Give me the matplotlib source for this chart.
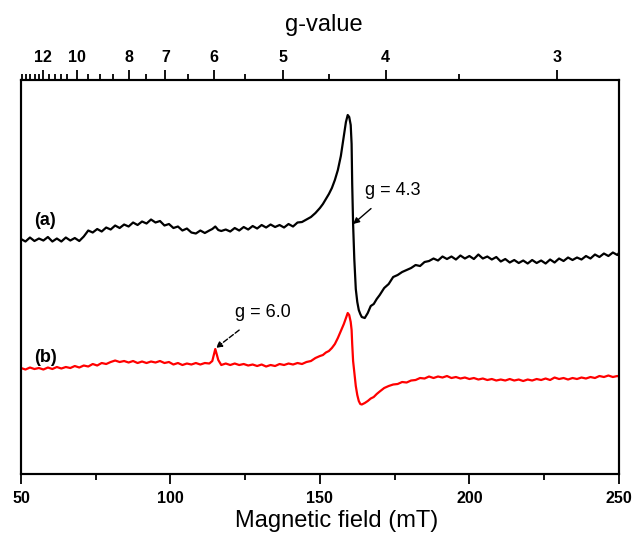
import matplotlib
matplotlib.use("Agg")
import matplotlib.pyplot as plt
import numpy as np

# g = C / B  (C = h*nu/muB in mT, X-band ~9.63 GHz)
G_CONST = 688.0

# magnetic field (mT), shared by both spectra
field = (
    [50, 51.5, 53, 54.5, 56, 57.5, 59, 60.5, 62, 63.5, 65, 66.5, 68, 69.5, 71,
     72.5, 74, 75.5, 77, 78.5, 80, 81.5, 83, 84.5, 86, 87.5, 89, 90.5, 92, 93.5,
     95, 96.5, 98, 99.5, 101, 102.5, 104, 105.5, 107, 108.5, 110, 111.5, 113]
    + [114, 115, 116, 117]
    + [118.5, 120, 121.5, 123, 124.5, 126, 127.5, 129, 130.5, 132, 133.5, 135,
       136.5, 138, 139.5, 141, 142.5, 144, 145.5, 147, 148.5, 150]
    + [151, 152, 153, 154, 155, 156, 157, 158]
    + [158.7, 159.3, 159.8, 160.3, 160.6, 160.8, 161.1, 161.5]
    + [162, 162.5, 163, 163.5, 164]
    + [165, 166, 167, 168, 169, 170]
    + [171.5, 173, 174.5, 176, 177.5, 179, 180.5, 182, 183.5, 185, 186.5, 188,
       189.5, 191, 192.5, 194, 195.5, 197, 198.5, 200, 201.5, 203, 204.5, 206,
       207.5, 209, 210.5, 212, 213.5, 215, 216.5, 218, 219.5, 221, 222.5, 224,
       225.5, 227, 228.5, 230, 231.5, 233, 234.5, 236, 237.5, 239, 240.5, 242,
       243.5, 245, 246.5, 248, 249.5, 250]
)

# spectrum (a), arbitrary units
spec_a = (
    [235, 232.5, 236.5, 233, 235.5, 233.5, 237, 232.5, 235.5, 232.5, 236.5, 233.5, 236,
     233, 237.5, 243.5, 241.5, 245, 242.5, 246.5, 244.5, 248.5, 246, 249.5, 247.5, 251.5,
     249, 252.5, 250.5, 254.5, 251.5, 253, 248.5, 250, 246, 247.5, 243.5, 245.5, 241.5,
     240.5, 243.5, 241, 243.5]
    + [245, 247.5, 244, 243]
    + [244.5, 242.5, 246, 243.5, 247, 244.5, 248, 245.5, 249, 246.5, 249.5, 247,
       249, 246.5, 250, 247.5, 251.5, 252, 254.5, 257, 261, 266]
    + [270, 275, 280, 286, 294, 304, 318, 338]
    + [352, 359, 357, 349, 330, 290, 250, 215]
    + [185, 172, 164, 160, 157]
    + [156, 161, 168, 170, 175, 179]
    + [186, 190, 197, 199, 202, 204, 206, 209, 208, 212, 213, 215.5, 213.5, 217.5,
       215, 217.5, 214.5, 218.5, 215.5, 218, 215, 219.5, 215.5, 217.5, 214.5, 217, 212.5,
       215, 211.5, 214, 211, 213.5, 210.5, 214, 211, 213.5, 210.5, 214.5, 211.5,
       215.5, 213, 216.5, 214, 216.5, 214.5, 218, 215.5, 219.5, 217, 220.5, 218,
       221.5, 219, 221]
)

# spectrum (b), arbitrary units
spec_b = (
    [106, 104.5, 106.5, 105, 106, 104.5, 106.5, 105, 107, 105.5, 107, 106, 108,
     106.5, 108.5, 107.5, 110, 108.5, 111, 110, 112, 113.5, 112, 113, 111.5,
     113, 111, 112.5, 111, 112.5, 111.5, 113, 111, 112, 109.5, 111, 109, 110.5,
     109.5, 111, 109.5, 111, 110.5]
    + [113, 125, 114, 109]
    + [110.5, 109, 110.5, 109, 110, 108.5, 109.5, 108, 109.5, 107.5, 109, 108,
       110, 109, 110.5, 109.5, 111, 110, 112, 113, 116, 118]
    + [119, 121.5, 123, 126, 130, 136, 143, 150]
    + [156, 161, 159, 152, 144, 130, 113, 102]
    + [88, 79, 73, 70, 69.5]
    + [71, 73, 75.5, 77, 80, 82.5]
    + [86, 88, 89.5, 90, 92, 91.5, 93.5, 94, 96, 95.5, 97.5, 96, 97.5, 96.5,
       98, 96, 97, 95.5, 96.5, 95, 96, 94.5, 95.5, 94, 95, 93.5, 94.5, 93.5, 95,
       93.5, 94.5, 93, 94.5, 93.5, 95, 94, 95.5, 94, 96.5, 95, 96, 94.5, 96, 95,
       96.5, 95.5, 97, 96, 98, 97, 98.5, 97, 98, 97.5]
)

g_major = [12, 10, 8, 7, 6, 5, 4, 3]
g_minor = [13.65, 13.3, 12.95, 12.6, 12.3, 11.6, 11.2, 10.85, 10.5, 9.5, 9,
           8.5, 7.5, 6.5, 5.5, 4.5, 3.5]

tick_font = ["Liberation Sans", "DejaVu Sans"]
text_font = ["Liberation Sans", "DejaVu Sans"]

fig = plt.figure(figsize=(6.32, 5.37), dpi=100)
ax = fig.add_axes([0.0332, 0.1173, 0.946, 0.7337])

ax.plot(field, spec_a, color="black", lw=1.6)
ax.plot(field, spec_b, color="#ff0000", lw=1.6)

ax.set_xlim(50, 250)
ax.set_ylim(0, 394)
ax.set_yticks([])
ax.set_xticks([50, 100, 150, 200, 250])
ax.set_xticks([75, 125, 175, 225], minor=True)
ax.tick_params(axis="x", which="major", direction="out", length=7, width=1.3, pad=5)
ax.tick_params(axis="x", which="minor", direction="out", length=4, width=1.3)
for lab in ax.get_xticklabels():
    lab.set_family(tick_font)
    lab.set_fontsize(11.5)
    lab.set_fontweight("bold")
for sp in ax.spines.values():
    sp.set_linewidth(1.5)

# top g-value axis
axt = ax.twiny()
axt.set_xlim(50, 250)
axt.set_xticks([G_CONST / g for g in g_major])
axt.set_xticklabels([str(g) for g in g_major])
axt.set_xticks([G_CONST / g for g in g_minor], minor=True)
axt.tick_params(axis="x", which="major", direction="out", length=7, width=1.3, pad=4)
axt.tick_params(axis="x", which="minor", direction="out", length=4, width=1.3)
for lab in axt.get_xticklabels():
    lab.set_family(tick_font)
    lab.set_fontsize(11.5)
    lab.set_fontweight("bold")
for sp in axt.spines.values():
    sp.set_linewidth(1.5)

fig.text(0.513, 0.953, "g-value", ha="center", va="center", fontsize=17, family=text_font)
fig.text(0.532, 0.030, "Magnetic field (mT)", ha="center", va="center", fontsize=17, family=text_font)

# labels and annotations
ax.text(54.5, 254, "(a)", fontsize=13, fontweight="bold", family=text_font, va="center")
ax.text(54.5, 117, "(b)", fontsize=13, fontweight="bold", family=text_font, va="center")

ax.annotate("g = 4.3", xy=(161.1, 250), xytext=(165, 284), fontsize=13,
            family=text_font, va="center",
            arrowprops=dict(arrowstyle="-|>", color="black", lw=1.0,
                            shrinkA=8, shrinkB=0, mutation_scale=9))
ax.annotate("g = 6.0", xy=(115.2, 126), xytext=(121.5, 162), fontsize=13,
            family=text_font, va="center",
            arrowprops=dict(arrowstyle="-|>", color="black", lw=1.0, ls="--",
                            shrinkA=8, shrinkB=0, mutation_scale=9))

fig.savefig("out.png", dpi=100)
